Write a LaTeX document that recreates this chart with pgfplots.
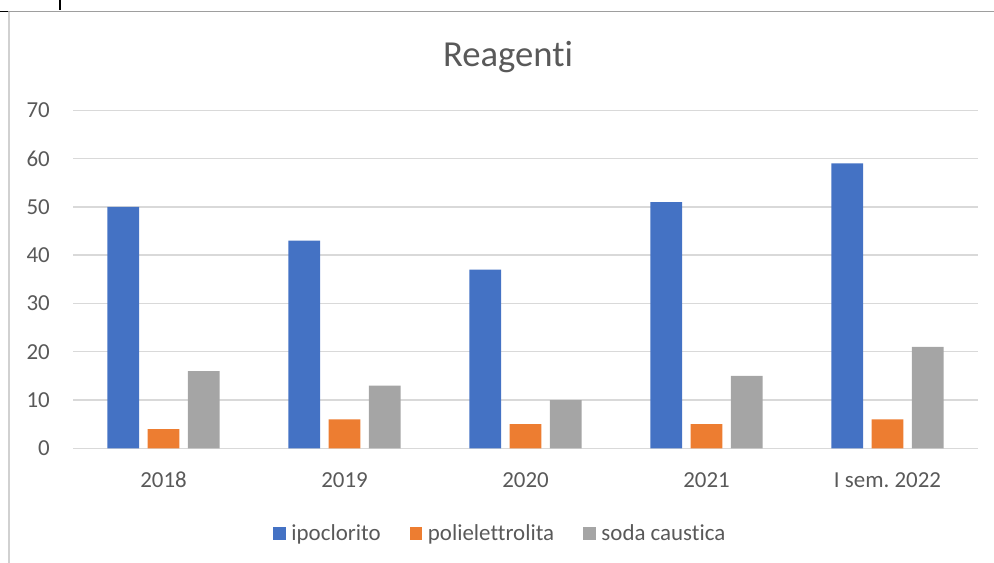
\documentclass[border=0pt]{standalone}
\usepackage{fontspec}
\setmainfont{Carlito}[Ligatures=NoCommon]
\usepackage{pgfplots}
\pgfplotsset{compat=1.18}
\frenchspacing

\definecolor{xblue}{HTML}{4472C4}
\definecolor{xorange}{HTML}{ED7D31}
\definecolor{xgray}{HTML}{A5A5A5}
\definecolor{txt}{HTML}{595959}
\definecolor{gridc}{HTML}{D9D9D9}

\pgfplotsset{
  sqlegend/.style={legend image code/.code={%
      \fill[##1,draw=none] (0bp,-6.35bp) rectangle (12.7bp,6.35bp);}},
}

\begin{document}
\begin{tikzpicture}[x=1bp,y=1bp]
  % sheet borders around the chart
  \draw[black, line width=1.2bp] (60,563) -- (60,552.7);
  \draw[black, line width=1.2bp] (0,551.7) -- (8,551.7);
  \draw[black!38, line width=1.4bp] (8,551.7) -- (994,551.7);
  \draw[black!18, line width=1.2bp] (9,551) -- (9,0);

  \node[anchor=base, text=txt, font=\fontsize{36.8}{40}\selectfont] at (508,496.3) {Reagenti};

  \begin{axis}[
      scale only axis, width=905bp, height=338.1bp,
      at={(73bp,114.6bp)}, anchor=south west,
      ybar=8.5bp, bar width=31.7bp,
      xmin=-0.5, xmax=4.5, ymin=0, ymax=70,
      xtick=data, xticklabels={2018, 2019, 2020, 2021, I sem. 2022},
      ytick={0,10,...,70},
      xmajorgrids=false, ymajorgrids=true,
      major grid style={draw=gridc, line width=1.4bp},
      axis line style={draw=none}, major tick length=0pt,
      tick label style={text=txt, font=\fontsize{23}{27}\selectfont},
      /pgf/number format/assume math mode=true,
      yticklabel style={anchor=east, inner sep=0pt, xshift=-23bp},
      xticklabel style={anchor=north, inner sep=0pt, yshift=-23.6bp},
      legend columns=3,
      legend style={draw=none, fill=none, at={(0.471,-0.252)}, anchor=center,
        inner sep=0pt, font=\fontsize{23}{27}\selectfont, text=txt,
        nodes={inner sep=0pt}},
      /tikz/every even column/.append style={column sep=29bp},
      /tikz/every odd column/.append style={column sep=5.6bp},
    ]
    \addplot[fill=xblue, draw=none, sqlegend] coordinates {(0,50) (1,43) (2,37) (3,51) (4,59)};
    \addplot[fill=xorange, draw=none, sqlegend] coordinates {(0,4) (1,6) (2,5) (3,5) (4,6)};
    \addplot[fill=xgray, draw=none, sqlegend] coordinates {(0,16) (1,13) (2,10) (3,15) (4,21)};
    \legend{ipoclorito, polielettrolita, soda caustica}
  \end{axis}
  \pgfresetboundingbox
  \path (0,0) rectangle (994,563);
\end{tikzpicture}
\end{document}
